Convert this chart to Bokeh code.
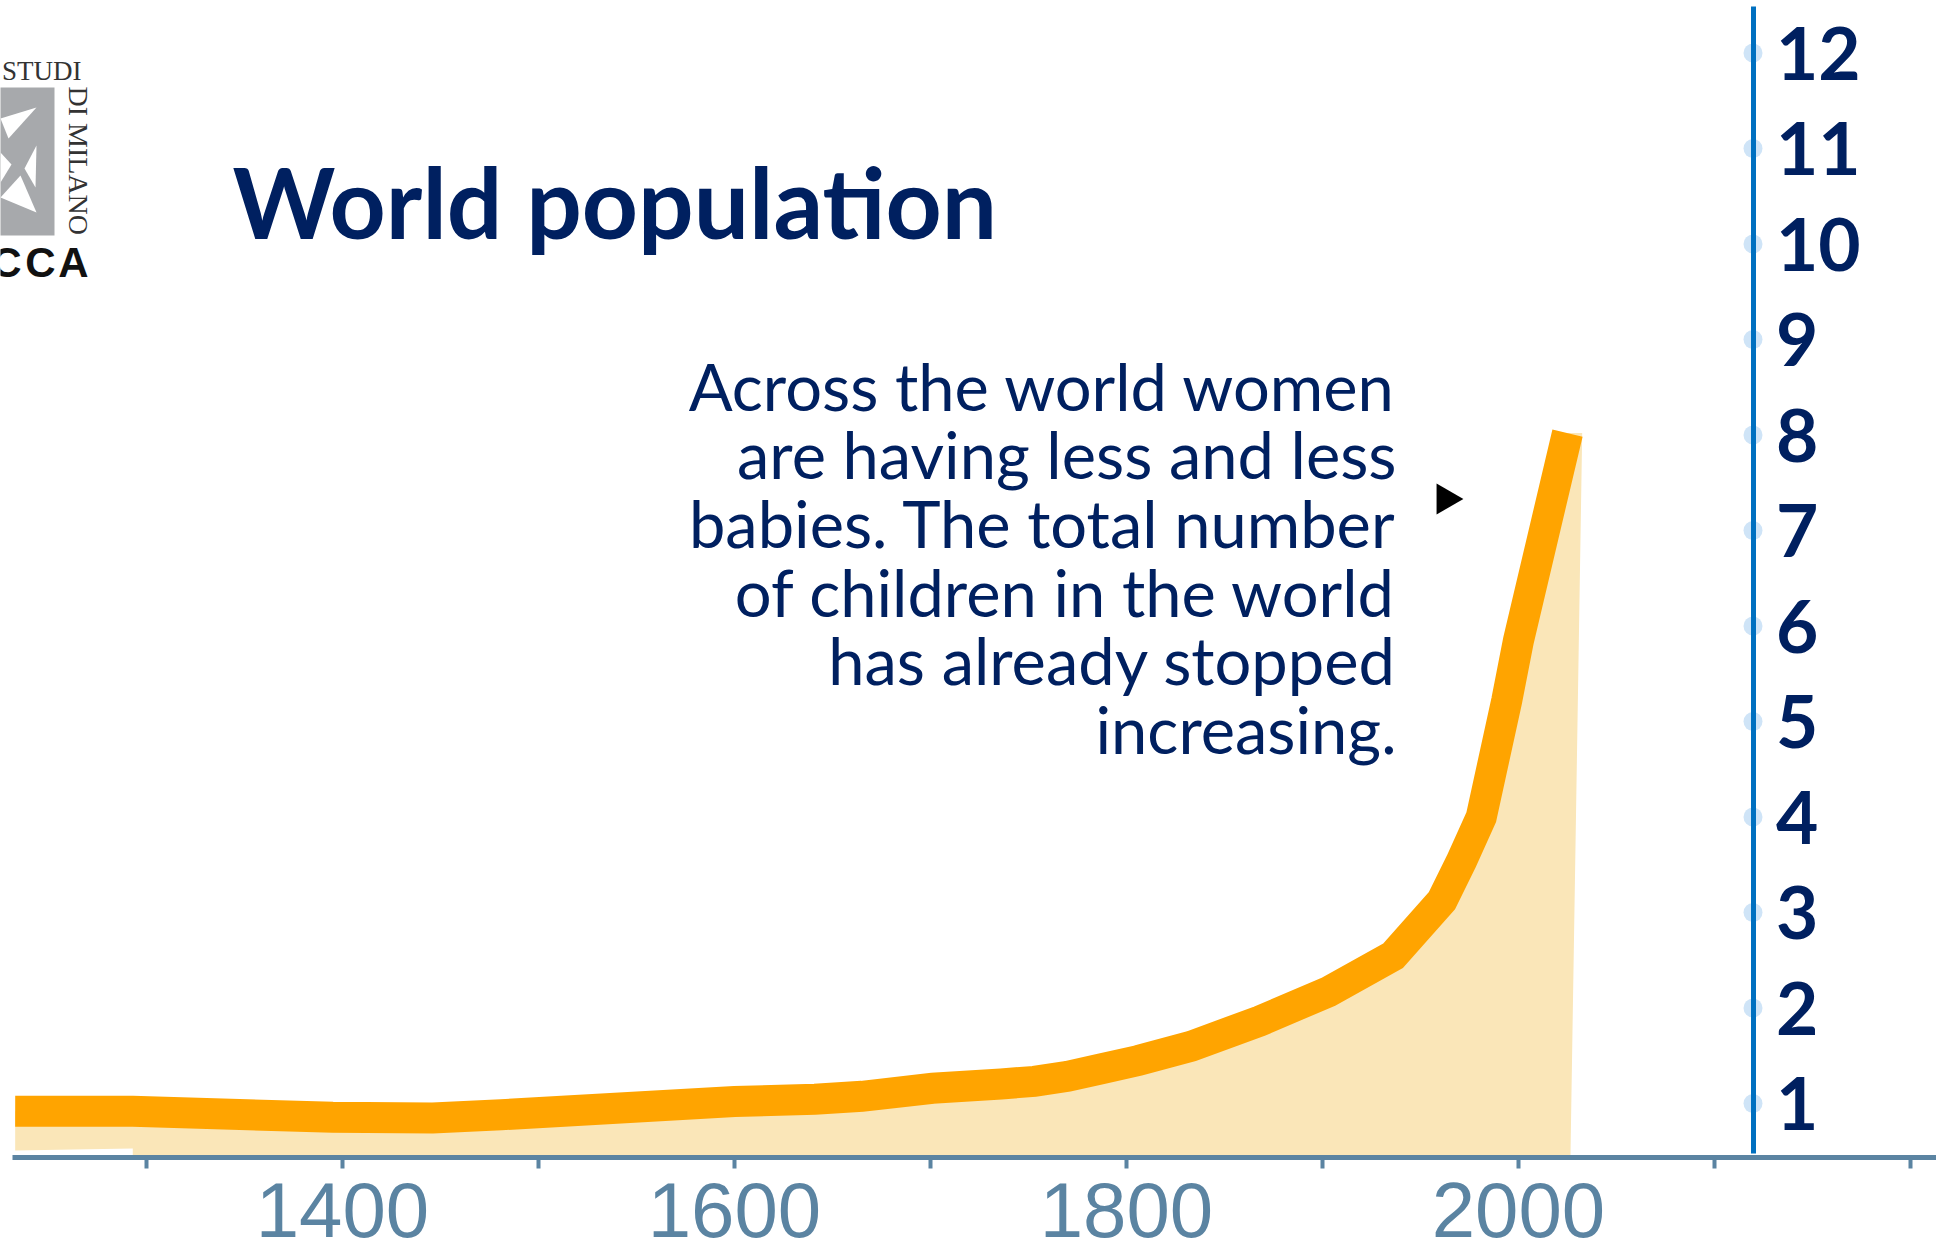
import math

from bokeh.core.properties import value
from bokeh.embed import file_html
from bokeh.models import FixedTicker, LinearAxis, Range1d
from bokeh.plotting import figure
from bokeh.resources import INLINE

# ---- data -----------------------------------------------------------------
# world population, billions (right-hand scale), by year
years = [1233, 1293, 1395, 1446, 1481, 1600, 1641, 1665, 1701, 1736, 1753,
         1770, 1787, 1806, 1833, 1868, 1903, 1936, 1961, 1971, 1981, 1994,
         2000, 2025]
population = [0.92, 0.918, 0.855, 0.848, 0.882, 1.02, 1.044, 1.075, 1.159,
              1.204, 1.232, 1.285, 1.363, 1.45, 1.6, 1.864, 2.17, 2.548,
              3.126, 3.543, 4.0, 5.22, 5.85, 8.02]

year_ticks = [1300, 1400, 1500, 1600, 1700, 1800, 1900, 2000, 2100, 2200]
year_labels = ["1400", "1600", "1800", "2000"]
pop_ticks = [1, 2, 3, 4, 5, 6, 7, 8, 9, 10, 11, 12]

title_text = "World population"
note_lines = [
    "Across the world women",
    "are having less and less",
    "babies. The total number",
    "of children in the world",
    "has already stopped",
    "increasing.",
]

# ---- page geometry --------------------------------------------------------
W, H = 1936, 1250
PX_PER_YEAR = 1.96
YEAR_AT_LEFT = 1300 - 146 / PX_PER_YEAR
PX_PER_UNIT = 95.5
ZERO_ROW = 1198.5          # pixel row (from top) of population 0
BASELINE_FIX = 0.38        # text glyphs sit this many em below their anchor


def sx(px):
    """horizontal pixel -> year"""
    return YEAR_AT_LEFT + px / PX_PER_YEAR


def sy(py):
    """vertical pixel (from top) -> population value"""
    return (ZERO_ROW - py) / PX_PER_UNIT


def base_row(row, size):
    """anchor row that puts the text baseline on `row`"""
    return sy(row - BASELINE_FIX * size)


NAVY = "#002060"
ORANGE = "#ffa400"
PEACH = "#fae6b8"
STEEL = "#5b84a2"
BLUE = "#0070c0"

p = figure(
    width=W, height=H,
    x_range=Range1d(sx(0), sx(W)), y_range=Range1d(sy(H), sy(0)),
    x_axis_type=None, y_axis_type=None,
    output_backend="svg", toolbar_location=None,
    min_border=0, outline_line_color=None,
    background_fill_color="white", border_fill_color="white",
)

# ---- area under the curve -------------------------------------------------
base = sy(1157)
fill_x = years + [years[-1] + 7.5, years[-1] + 1.5, years[1], years[1], years[0]]
fill_y = population + [population[-1], base, base, sy(1148), sy(1150)]
p.patch(fill_x, fill_y, fill_color=PEACH, line_color=None)

p.line(years, population, line_width=31, line_color=ORANGE,
       line_join="miter", line_cap="butt")

# ---- bottom (years) axis --------------------------------------------------
xaxis = LinearAxis(
    fixed_location=base,
    bounds=(sx(12), sx(W)),
    ticker=FixedTicker(ticks=year_ticks),
    major_label_overrides={t: (str(t) if str(t) in year_labels else "")
                           for t in year_ticks},
    axis_line_color=STEEL, axis_line_width=5,
    major_tick_line_color=STEEL, major_tick_line_width=4,
    major_tick_out=11, major_tick_in=0,
    minor_tick_line_color=None,
    major_label_text_font="Liberation Sans",
    major_label_text_font_size="78px",
    major_label_text_color=STEEL,
    major_label_standoff=14,
)
p.add_layout(xaxis, "below")

# ---- vertical (billions) axis ---------------------------------------------
axis_year = sx(1752.5)
p.scatter([axis_year] * len(pop_ticks), pop_ticks, size=19,
          fill_color="#cfe4f7", line_color=None)

yaxis = LinearAxis(
    fixed_location=axis_year,
    bounds=(sy(1153), sy(6)),
    ticker=FixedTicker(ticks=pop_ticks),
    axis_line_color=BLUE, axis_line_width=5,
    major_tick_line_color=None, minor_tick_line_color=None,
    major_label_text_font="Lato",
    major_label_text_font_style="bold",
    major_label_text_font_size="73px",
    major_label_text_color=NAVY,
    major_label_standoff=17,
)
p.add_layout(yaxis, "right")

# ---- title and note -------------------------------------------------------
p.text([sx(232)], [base_row(238, 98)], text=[title_text],
       text_font=value("Lato"), text_font_style="bold",
       text_font_size="98px", text_color=NAVY,
       text_align="left", text_baseline="alphabetic")

note_rows = [410 + i * 68.6 for i in range(len(note_lines))]
p.text([sx(1396)] * len(note_lines), [base_row(r, 65) for r in note_rows],
       text=note_lines, text_font=value("Lato"),
       text_font_size="65px", text_color=NAVY,
       text_align="right", text_baseline="alphabetic")

p.scatter([sx(1445)], [sy(498.5)], marker="triangle", size=31,
          angle=-math.pi / 2, fill_color="black", line_color=None)

# ---- university mark (cropped at the page edge) ---------------------------
p.quad(left=sx(-6), right=sx(54), top=sy(87), bottom=sy(235),
       fill_color="#a7a9ac", line_color=None)
star_xs = [
    [sx(0), sx(36), sx(8)],
    [sx(24), sx(36), sx(35)],
    [sx(0), sx(20), sx(36)],
    [sx(0), sx(11), sx(0)],
]
star_ys = [
    [sy(118), sy(107), sy(138)],
    [sy(168), sy(145), sy(187)],
    [sy(197), sy(175), sy(212)],
    [sy(152), sy(164), sy(182)],
]
p.patches(star_xs, star_ys, fill_color="white", line_color=None)

p.text([sx(81)], [base_row(81, 27)], text=["STUDI"],
       text_font=value("Liberation Serif"),
       text_font_size="27px", text_color="#333333",
       text_align="right", text_baseline="alphabetic")
# rotated clockwise: the baseline fix moves sideways instead of down
p.text([sx(67 + BASELINE_FIX * 28)], [sy(86)], text=["DI MILANO"],
       text_font=value("Liberation Serif"),
       text_font_size="28px", text_color="#333333", angle=-math.pi / 2,
       text_align="left", text_baseline="alphabetic")
p.text([sx(6), sx(40), sx(73)], [base_row(278, 42)] * 3, text=["C", "C", "A"],
       text_font=value("Liberation Sans"), text_font_style="bold",
       text_font_size="42px", text_color="#111111",
       text_align="center", text_baseline="alphabetic")

open("out.html", "w").write(file_html(p, INLINE))
